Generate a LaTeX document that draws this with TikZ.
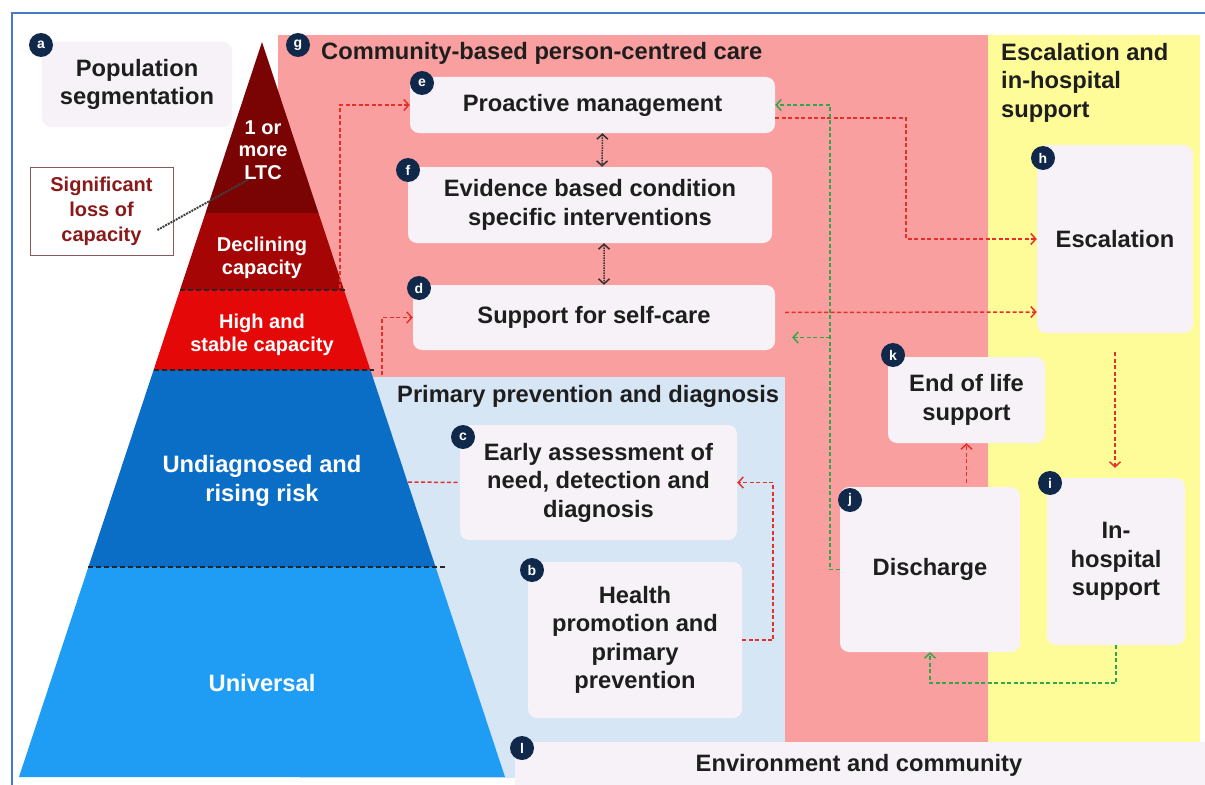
\documentclass[tikz,border=0pt]{standalone}
\usepackage{fontspec}
\setmainfont{Liberation Sans}
\usetikzlibrary{arrows.meta}
\definecolor{framecol}{HTML}{4A78C8}
\definecolor{pinkbg}{HTML}{FA9F9F}
\definecolor{yellowbg}{HTML}{FEFC98}
\definecolor{bluebg}{HTML}{D7E6F5}
\definecolor{boxfill}{HTML}{F6F2F7}
\definecolor{badgecol}{HTML}{10294A}
\definecolor{textcol}{HTML}{1E1E1E}
\definecolor{ltccol}{HTML}{7A0404}
\definecolor{dclcol}{HTML}{A60505}
\definecolor{hsccol}{HTML}{E50808}
\definecolor{udrcol}{HTML}{0B6EC6}
\definecolor{unicol}{HTML}{1F9CF4}
\definecolor{linered}{HTML}{E5302A}
\definecolor{linegreen}{HTML}{2FA84C}
\definecolor{sigtext}{HTML}{8A1A1A}
\definecolor{sigborder}{HTML}{8A5A5A}
\newcommand\maintext{\fontsize{23.7bp}{28.5bp}\selectfont\bfseries}
\newcommand\pyrsmall{\fontsize{20bp}{22.5bp}\selectfont\bfseries}
\newcommand\badgetext{\fontsize{14bp}{14bp}\selectfont\bfseries}
\tikzset{
  carebox/.style={fill=boxfill, rounded corners=9bp, inner sep=0pt, align=center, text=textcol, font=\maintext},
  badge/.style={circle, fill=badgecol, text=white, inner sep=0pt, minimum size=24bp, font=\badgetext},
  pyrtext/.style={text=white, align=center, inner sep=0pt, font=\pyrsmall},
  heading/.style={text=textcol, inner sep=0pt, font=\maintext},
  reddash/.style={->, draw=linered, line width=1.5bp, dash pattern=on 4bp off 2.5bp},
  greendash/.style={->, draw=linegreen, line width=1.5bp, dash pattern=on 4bp off 2.5bp},
  dotarrow/.style={<->, draw=black!80, line width=1.5bp, densely dotted},
  dotline/.style={draw=black!75, line width=2bp, densely dotted},
  layerline/.style={draw=black!85, line width=1.4bp, dash pattern=on 5bp off 3bp},
}
\begin{document}
\begin{tikzpicture}[x=1bp, y=-1bp, >={Straight Barb[length=5bp,width=11bp]}]
\useasboundingbox (0,0) rectangle (1205,785);
\fill[pinkbg] (278,35) rectangle (988,742);
\fill[yellowbg] (988,35) rectangle (1200,742);
\fill[bluebg] (300,377) rectangle (785,742);
\fill[bluebg] (300,742) rectangle (515,778);
\fill[boxfill] (515,742) rectangle (1205,785);
\draw[framecol, line width=1.3bp] (12,785) -- (12,13) -- (1205,13);

\fill[ltccol] (262,42) -- (318.5,213) -- (205.5,213) -- cycle;
\fill[dclcol] (205.5,213) -- (318.5,213) -- (344,290) -- (180,290) -- cycle;
\fill[hsccol] (180,290) -- (344,290) -- (370.4,370) -- (153.6,370) -- cycle;
\fill[udrcol] (153.6,370) -- (370.4,370) -- (435.6,567) -- (88.4,567) -- cycle;
\fill[unicol] (88.4,567) -- (435.6,567) -- (505,777) -- (19,777) -- cycle;
\draw[layerline] (180,290) -- (346,290);
\draw[layerline] (153.6,370) -- (374,370);
\draw[layerline] (88.4,567) -- (445,567);

\node[pyrtext] (ltc) at (263,150) {1 or\\more\\LTC};
\node[pyrtext] (dcl) at (262,258) {Declining\\capacity};
\node[pyrtext] (hsc) at (262,335) {High and\\stable capacity};
\node[pyrtext, font=\maintext] (udr) at (262,481) {Undiagnosed and\\rising risk};
\node[pyrtext, font=\maintext] (uni) at (262,683) {Universal};
\coordinate (dclout) at (340,288);
\coordinate (hscout) at (382,375);
\coordinate (udrout) at (408,482);

\node[carebox, minimum width=190bp, minimum height=85bp] (a) at (137,84.5) {Population\\segmentation};
\node[draw=sigborder, fill=white, line width=0.8bp, minimum width=143bp, minimum height=88bp, inner sep=0pt,
  align=center, text=sigtext, font=\fontsize{20bp}{25bp}\selectfont\bfseries] (sig) at (101.5,211) {Significant\\loss of\\capacity};
\node[carebox, minimum width=365bp, minimum height=56bp] (e) at (592.5,105) {Proactive management};
\node[carebox, minimum width=364bp, minimum height=76bp] (f) at (590,205) {Evidence based condition\\specific interventions};
\node[carebox, minimum width=362bp, minimum height=65bp] (d) at (594,317.5) {Support for self-care};
\node[carebox, minimum width=277bp, minimum height=115bp] (c) at (598.5,482.5) {Early assessment of\\need, detection and\\diagnosis};
\node[carebox, minimum width=214bp, minimum height=156bp] (b) at (635,640) {Health\\promotion and\\primary\\prevention};
\node[carebox, minimum width=156bp, minimum height=188bp] (h) at (1115,239) {Escalation};
\node[carebox, minimum width=157bp, minimum height=86bp] (k) at (966.5,400) {End of life\\support};
\node[carebox, minimum width=180bp, minimum height=165bp] (j) at (930,569.5) {Discharge};
\node[carebox, minimum width=138bp, minimum height=167bp] (i) at (1116,561.5) {In-\\hospital\\support};

\node[heading, anchor=west] (gtitle) at (321,53) {Community-based person-centred care};
\node[heading, anchor=north west, align=left] (esctitle) at (1001,43) {Escalation and\\in-hospital\\support};
\node[heading, anchor=west] (pptitle) at (397,396) {Primary prevention and diagnosis};
\node[heading] (envtitle) at (859,765) {Environment and community};

\draw[dotline] ([xshift=-16bp,yshift=-19bp]sig.east) -- ([xshift=-15bp]ltc.south);
\draw[reddash] (dclout) |- (e.west);
\draw[reddash] (hscout) |- (d.west);
\draw[reddash, -] (udrout) -- (c.west);
\draw[reddash] (b.east) -- ++(31,0) |- (c.east);
\draw[reddash] ([yshift=-13bp]e.east) -- ++(131,0) |- (h.west);
\draw[reddash] ([xshift=10bp,yshift=5bp]d.east) -- ([yshift=-73bp]h.west);
\draw[reddash, shorten <=19bp, shorten >=10bp] (h.south) -- (h.south |- i.north);
\draw[reddash] ([yshift=4bp]k.south |- j.north) -- (k.south);
\draw[greendash] (j.west) -- ++(-10,0) |- (e.east);
\draw[greendash] ([xshift=55bp,yshift=-20bp]d.east) -- ([xshift=17bp,yshift=-20bp]d.east);
\draw[greendash] (i.south) -- ++(0,38) -| (j.south);
\draw[dotarrow] ([xshift=10bp]e.south) -- ([xshift=12bp]f.north);
\draw[dotarrow] ([xshift=14bp]f.south) -- ([xshift=10bp]d.north);

\node[badge] (ba) at (41,45) {a};
\node[badge] (bg) at (298,45) {g};
\node[badge] (be) at (422,83) {e};
\node[badge] (bf) at (408,170) {f};
\node[badge] (bd) at (419,288) {d};
\node[badge] (bc) at (463,437) {c};
\node[badge] (bb) at (532,570) {b};
\node[badge] (bh) at (1043,158) {h};
\node[badge] (bk) at (893,355) {k};
\node[badge] (bj) at (850,500) {j};
\node[badge] (bi) at (1050,483) {i};
\node[badge] (bl) at (522,748) {l};
\end{tikzpicture}
\end{document}
